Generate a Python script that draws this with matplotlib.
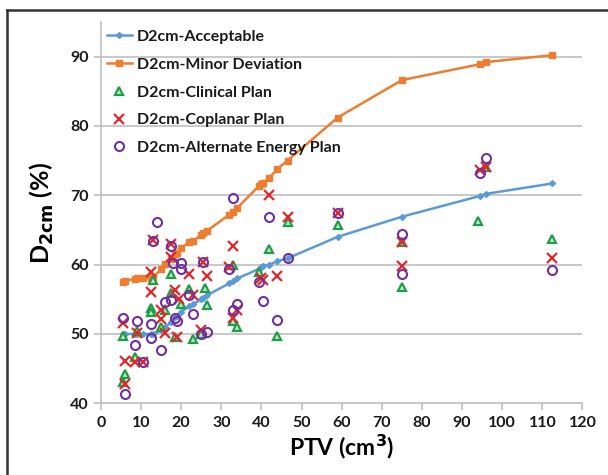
import matplotlib
matplotlib.use('Agg')
import matplotlib.pyplot as plt
from matplotlib.lines import Line2D

plt.rcParams['font.family'] = ['Lato', 'DejaVu Sans']
plt.rcParams['font.weight'] = 'bold'

# PTV values used by the two reference lines
ptv_line = [5.5, 6, 8.5, 9, 10.5, 12.5, 13, 15, 16, 17.5, 18.5, 19, 20, 22, 23, 25,
            25.5, 26.5, 32, 33, 34, 39.5, 40, 40.5, 42, 44, 46.5, 59, 75, 94.5, 96, 112.5]
acceptable = [50, 50, 50, 50, 50, 50, 50, 50.5, 51, 51.7, 52.4, 52.6, 53.2, 54, 54.3, 55,
              55.2, 55.6, 57.3, 57.7, 58, 59.4, 59.7, 59.8, 60, 60.5, 60.9, 64, 66.9, 69.9, 70.2, 71.7]
minor = [57.5, 57.7, 57.9, 58, 58, 58.1, 58.2, 59.3, 60.1, 60.8, 61.5, 61.7, 62.4, 63.2, 63.4, 64.3,
         64.5, 64.9, 67.2, 67.6, 68.2, 71.4, 71.6, 71.8, 72.5, 73.8, 75, 81.2, 86.6, 88.9, 89.2, 90.2]

clin_x = [5.5, 5.5, 6, 8.5, 9, 12.5, 12.5, 13, 15, 16, 17.5, 17.5, 18.5, 20, 22, 23, 25, 26,
          26.5, 33, 33, 34, 39.5, 42, 44, 46.5, 59, 75, 75, 94, 96, 112.5]
clin_y = [49.7, 43, 44.2, 46.7, 50.4, 53.8, 53.2, 57.8, 51, 53.5, 55.9, 58.7, 49.5, 54.3, 56.5,
          49.3, 50, 56.6, 54.1, 59.9, 51.9, 51, 59, 62.3, 49.7, 66.1, 65.7, 56.8, 63.2, 66.3, 74.1, 63.7]

cop_x = [5.5, 6, 6, 8.5, 9, 10.5, 12.5, 12.5, 13, 15, 15, 16, 17.5, 17.5, 18.5, 19, 19.5, 22,
         23, 25, 25.5, 26.5, 32, 33, 33, 34, 40, 40.5, 42, 44, 46.5, 59, 75, 75, 94.5, 96, 112.5]
cop_y = [51.6, 46.1, 42.8, 46, 50.2, 45.9, 58.9, 56, 63.5, 53.5, 52.1, 50.2, 63, 61.1, 56.3,
         49.5, 55.1, 58.6, 55.6, 50.5, 60.3, 58.3, 59.7, 62.7, 52.3, 53.4, 58, 57.8, 70.1, 58.3,
         66.8, 67.5, 63.2, 59.8, 73.6, 74, 60.9]

alt_x = [5.5, 6, 8.5, 9, 10.5, 12.5, 12.5, 13, 14, 15, 16, 17.5, 17.5, 18, 18.5, 19, 20, 20,
         22, 23, 25, 25.5, 26.5, 32, 33, 33, 34, 39.5, 40.5, 42, 44, 46.5, 59, 75, 75, 94.5, 96, 112.5]
alt_y = [52.3, 41.4, 48.4, 51.9, 45.9, 51.4, 49.4, 63.4, 66.2, 47.7, 54.6, 62.7, 54.9, 60.2,
         52.3, 51.9, 60.2, 59.4, 55.6, 52.9, 50, 60.3, 50.3, 59.4, 53.4, 69.6, 54.3, 57.5, 54.7,
         66.8, 52, 60.9, 67.5, 64.4, 58.6, 73.2, 75.4, 59.2]

blue, orange = '#5b9bd5', '#ed7d31'
green, red, purple = '#1f9e48', '#e8262a', '#7030a0'
grey = '#bfbfbf'

fig = plt.figure(figsize=(6.08, 4.75), dpi=100)
ax = fig.add_axes([0.166, 0.151, 0.792, 0.803])

ax.plot(ptv_line, acceptable, color=blue, lw=1.8, marker='D', ms=3,
        label='D2cm-Acceptable', zorder=3)
ax.plot(ptv_line, minor, color=orange, lw=1.8, marker='s', ms=4,
        label='D2cm-Minor Deviation', zorder=3)
ax.plot(clin_x, clin_y, ls='none', marker='^', ms=6, mfc='#bfe8c9', mec=green, mew=1.6,
        label='D2cm-Clinical Plan', zorder=4)
ax.plot(cop_x, cop_y, ls='none', marker='x', ms=7, mec=red, mew=1.6,
        label='D2cm-Coplanar Plan', zorder=5)
ax.plot(alt_x, alt_y, ls='none', marker='o', ms=6.5, mfc='none', mec=purple, mew=1.5,
        label='D2cm-Alternate Energy Plan', zorder=6)

ax.set_xlim(0, 120)
ax.set_ylim(40, 95)
ax.set_xticks(range(0, 121, 10))
ax.set_yticks(range(40, 91, 10))
for y in range(50, 91, 10):
    ax.axhline(y, color=grey, lw=1.2, zorder=1)

for s in ['top', 'right']:
    ax.spines[s].set_visible(False)
for s in ['left', 'bottom']:
    ax.spines[s].set_color(grey)
    ax.spines[s].set_linewidth(1.2)
ax.tick_params(axis='both', color=grey, width=1.2, length=5, labelsize=11.5,
               labelcolor='#1a1a1a', pad=4)
for lab in ax.get_xticklabels() + ax.get_yticklabels():
    lab.set_fontweight('bold')

ax.set_xlabel('PTV (cm$^\\mathbf{3}$)', fontsize=16.5, fontweight='bold', labelpad=2)
ax.set_ylabel('D$_{\\mathbf{2cm}}$ (%)', fontsize=18, fontweight='bold', labelpad=10)

leg = ax.legend(loc='upper left', frameon=False, fontsize=11.5, handlelength=1.6,
                handletextpad=0.3, labelspacing=0.85, borderaxespad=0.1,
                bbox_to_anchor=(-0.005, 1.0))
for t in leg.get_texts():
    t.set_color('#1a1a1a')

# partial frame round the figure, as in the source picture
fig.add_artist(Line2D([0.0115, 1.0], [0.979, 0.979], color='#333333', lw=1.8))
fig.add_artist(Line2D([0.0115, 0.0115], [0.0, 0.979], color='#333333', lw=1.8))

fig.savefig('out.png', dpi=100)
